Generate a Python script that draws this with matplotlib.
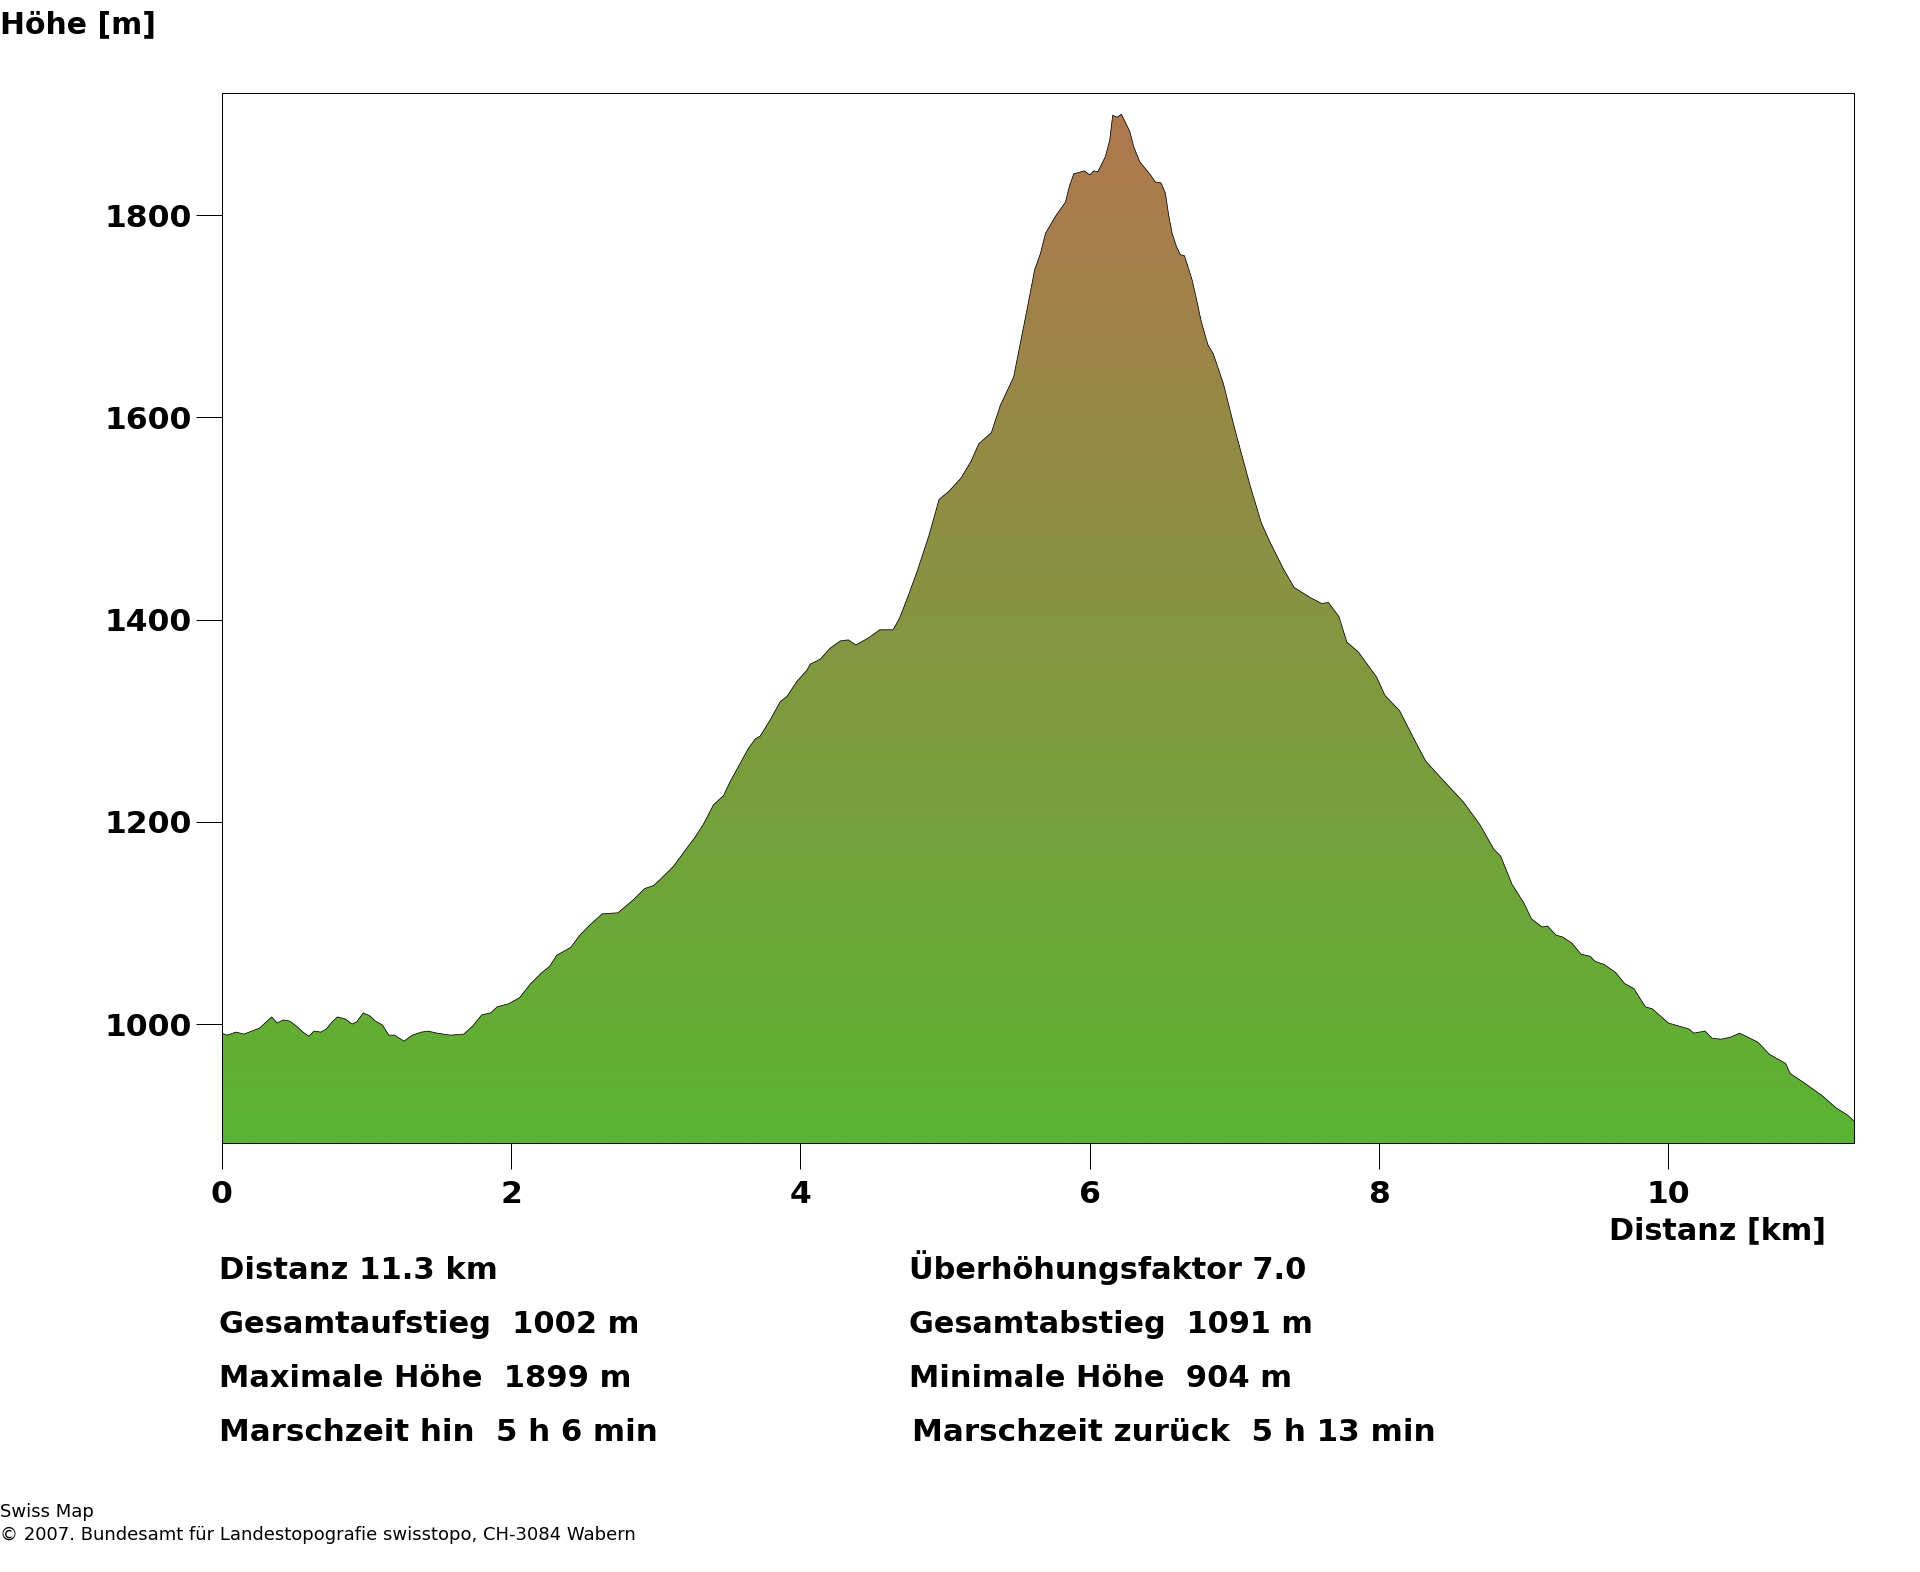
import numpy as np
import matplotlib
matplotlib.use("Agg")
import matplotlib.pyplot as plt
from matplotlib.colors import LinearSegmentedColormap
from matplotlib.patches import Polygon

# profile
km = [0, .037, .1, .154, .207, .262, .315, .346, .383, .423, .469, .516, .562, .602, .639, .685, .722, .763, .8, .855,
      .901, .932, .979, 1.025, 1.062, 1.111, 1.155, 1.195, 1.26, 1.318, 1.38, 1.426, 1.488, 1.581, 1.673, 1.735, 1.797,
      1.859, 1.905, 1.982, 2.059, 2.136, 2.214, 2.266, 2.316, 2.414, 2.476, 2.538, 2.63, 2.739, 2.846, 2.924, 2.985,
      3.031, 3.123, 3.215, 3.273, 3.331, 3.4, 3.469, 3.515, 3.584, 3.642, 3.688, 3.723, 3.792, 3.861, 3.907, 3.976,
      4.045, 4.068, 4.138, 4.207, 4.276, 4.332, 4.384, 4.471, 4.548, 4.641, 4.687, 4.749, 4.81, 4.888, 4.959,
      5.027, 5.11, 5.181, 5.233, 5.32, 5.382, 5.474, 5.514, 5.567, 5.619, 5.659, 5.694, 5.763, 5.832, 5.862, 5.89,
      5.963, 6.0, 6.028, 6.056, 6.108, 6.138, 6.159, 6.189, 6.219, 6.277, 6.304, 6.346, 6.42, 6.454, 6.493, 6.523,
      6.546, 6.57, 6.6, 6.627, 6.655, 6.673, 6.708, 6.738, 6.771, 6.817, 6.854, 6.925, 7.002, 7.11, 7.188, 7.249,
      7.336, 7.412, 7.523, 7.603, 7.65, 7.723, 7.777,
      7.857, 7.984, 8.041, 8.142, 8.238, 8.323, 8.444, 8.587, 8.698, 8.793, 8.841, 8.92, 9.0, 9.054, 9.127, 9.165,
      9.222, 9.27, 9.333, 9.397, 9.46, 9.492, 9.555, 9.635, 9.698, 9.762, 9.841, 9.889, 9.952, 10.0, 10.143, 10.175,
      10.254, 10.302, 10.365, 10.429, 10.492, 10.619, 10.699, 10.81, 10.842, 10.937, 11.064, 11.159, 11.238, 11.283]
hoehe = [991, 989, 992, 990, 993, 996, 1003, 1007, 1001, 1004, 1003, 998, 992, 988, 993, 992, 995, 1002, 1007, 1005,
         1000, 1002, 1011, 1008, 1003, 999, 989, 989, 983, 989, 992, 993, 991, 989, 990, 998, 1009,
         1011, 1017, 1020, 1026, 1040, 1051, 1057, 1068, 1076, 1088, 1097, 1109, 1110, 1123, 1134, 1137,
         1143, 1156, 1174, 1185, 1198, 1217, 1226, 1240, 1258, 1273, 1282, 1285, 1301, 1319, 1324, 1339,
         1350, 1356, 1361, 1372, 1379, 1380, 1375, 1382, 1390, 1390, 1402, 1425, 1449, 1483, 1519,
         1527, 1540, 1557, 1574, 1585, 1612, 1640, 1669, 1707, 1746, 1762, 1782, 1799, 1813, 1830, 1841,
         1844, 1840, 1844, 1843, 1858, 1874, 1899, 1897, 1900, 1883, 1868, 1853, 1840, 1833, 1832, 1822,
         1800, 1782, 1769, 1761, 1760, 1752, 1736, 1717, 1695, 1672, 1663, 1633, 1589, 1532, 1495, 1476,
         1451, 1432, 1422, 1416, 1417, 1403, 1378,
         1368, 1343, 1325, 1310, 1283, 1260, 1241, 1219, 1197, 1173, 1166, 1138, 1120, 1104, 1096, 1097,
         1088, 1086, 1080, 1069, 1067, 1062, 1059, 1051, 1040, 1035, 1017, 1015, 1007, 1001, 995, 991,
         993, 986, 985, 987, 991, 982, 970, 961, 951, 942, 929, 917, 910, 904]

x_ticks = [0, 2, 4, 6, 8, 10]
y_ticks = [1000, 1200, 1400, 1600, 1800]

links = ["Distanz 11.3 km", "Gesamtaufstieg  1002 m", "Maximale Höhe  1899 m", "Marschzeit hin  5 h 6 min"]
rechts = ["Überhöhungsfaktor 7.0", "Gesamtabstieg  1091 m", "Minimale Höhe  904 m", "Marschzeit zurück  5 h 13 min"]

W, H = 1920, 1572
fig = plt.figure(figsize=(W / 100, H / 100), dpi=100)
ax = fig.add_axes([221.7 / W, 1 - 1143 / H, (1854 - 221.7) / W, (1143 - 93) / H])
xmax, ymin, ymax = 11.283, 882.3, 1921
ax.set_xlim(0, xmax)
ax.set_ylim(ymin, ymax)

# vertical gradient clipped to the profile
cmap = LinearSegmentedColormap.from_list("hoehe", ["#5ab432", "#b0774f"])
grad = np.linspace(0, 1, 512).reshape(-1, 1)
im = ax.imshow(grad, origin="lower", cmap=cmap, aspect="auto", extent=[0, xmax, ymin, 1900], zorder=1)
pts = np.column_stack([km, hoehe])
poly = Polygon(np.vstack([[0, ymin], pts, [xmax, ymin]]), closed=True, transform=ax.transData,
               facecolor="none", edgecolor="none")
ax.add_patch(poly)
im.set_clip_path(poly)
ax.set_xlim(0, xmax)
ax.set_ylim(ymin, ymax)
ax.plot(km, hoehe, color="black", lw=0.55, zorder=2)

ax.set_xticks(x_ticks)
ax.set_yticks(y_ticks)
ax.tick_params(length=18.7, width=0.72, labelsize=22.6)
ax.tick_params(axis="x", pad=8)
ax.tick_params(axis="y", pad=3)
for lab in ax.get_xticklabels() + ax.get_yticklabels():
    lab.set_fontweight("bold")
for s in ax.spines.values():
    s.set_linewidth(0.72)
    s.set_zorder(3)


def txt(x, y, s, size=22, **kw):
    fig.text(x / W, 1 - y / H, s, va="baseline", ha="left", fontsize=size, **kw)


txt(0, 33, "Höhe [m]", size=21.5, fontweight="bold")
txt(1609, 1239, "Distanz [km]", size=21.8, fontweight="bold")
for i, y in enumerate([1279, 1333, 1387, 1441]):
    txt(219, y, links[i], size=[22.1, 21.95, 22, 22.25][i], fontweight="bold")
    txt(912 if i == 3 else 909, y, rechts[i], size=[21.85, 21.8, 21.95, 22.3][i], fontweight="bold")
txt(0, 1517, "Swiss Map", size=13)
txt(0, 1540, "© 2007. Bundesamt für Landestopografie swisstopo, CH-3084 Wabern", size=13)

fig.savefig("out.png", dpi=100)
